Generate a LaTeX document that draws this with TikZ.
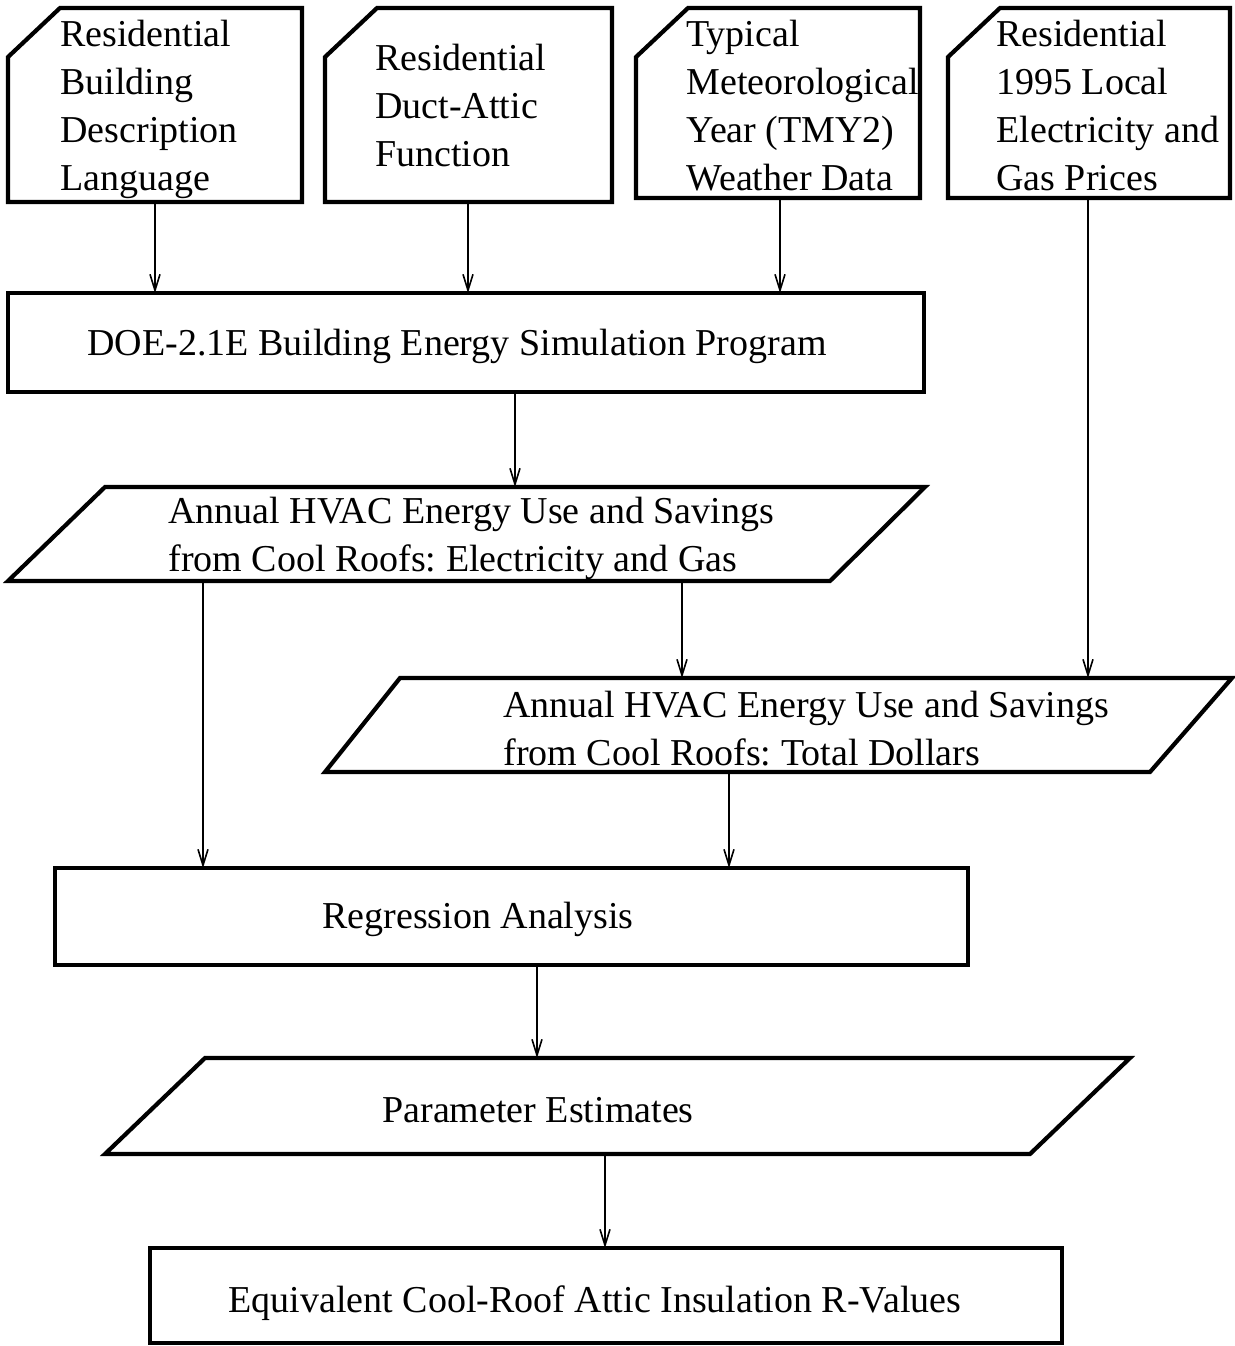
\documentclass[tikz,border=0pt]{standalone}
\usepackage{fontspec}
\setmainfont{Liberation Serif}
\frenchspacing
\usetikzlibrary{arrows.meta,fit,calc}
\tikzset{
  box/.style={draw=black,line width=2.1pt,line join=miter},
  area/.style={inner sep=0pt,outer sep=0pt},
  txt/.style={inner sep=0pt,align=left,font=\fontsize{19pt}{24pt}\selectfont},
  arr/.style={line width=0.8pt,-{Straight Barb[length=8pt,width=5pt]}},
}
\begin{document}
\begin{tikzpicture}[x=0.5pt,y=-0.5pt]
\useasboundingbox (0,0) rectangle (1235,1346);
% areas
\node[area,fit={(8,8)(302,202)}] (b1) {};
\node[area,fit={(325,8)(612,202)}] (b2) {};
\node[area,fit={(636,8)(920,198)}] (b3) {};
\node[area,fit={(948,8)(1230,198)}] (b4) {};
\node[area,fit={(8,293)(924,392)}] (doe) {};
\node[area,fit={(8,487)(925,581)}] (p1) {};
\node[area,fit={(325,678)(1232,772)}] (p2) {};
\node[area,fit={(55,868)(968,965)}] (reg) {};
\node[area,fit={(105,1058)(1130,1154)}] (p3) {};
\node[area,fit={(150,1248)(1062,1343)}] (eq) {};
% shapes
\draw[box] (8,202) -- (8,57) -- (60,8) -- (302,8) -- (302,202) -- cycle;
\draw[box] (325,202) -- (325,57) -- (377,8) -- (612,8) -- (612,202) -- cycle;
\draw[box] (636,198) -- (636,57) -- (688,8) -- (920,8) -- (920,198) -- cycle;
\draw[box] (948,198) -- (948,57) -- (1000,8) -- (1230,8) -- (1230,198) -- cycle;
\draw[box] (doe.north west) rectangle (doe.south east);
\draw[box] (105,487) -- (925,487) -- (830,581) -- (8,581) -- cycle;
\draw[box] (400,678) -- (1232,678) -- (1150,772) -- (325,772) -- cycle;
\draw[box] (reg.north west) rectangle (reg.south east);
\draw[box] (205,1058) -- (1130,1058) -- (1030,1154) -- (105,1154) -- cycle;
\draw[box] (eq.north west) rectangle (eq.south east);
% texts
\node[txt,anchor=west] (t1) at (60,109) {Residential\\Building\\Description\\Language};
\node[txt,anchor=west] (t2) at (375,105) {Residential\\Duct-Attic\\Function};
\node[txt,anchor=west] (t3) at (686,106) {Typical\\Meteorological\\Year (TMY2)\\Weather Data};
\node[txt,anchor=west] (t4) at (996,105) {Residential\\1995 Local\\Electricity and\\Gas Prices};
\node[txt] (tdoe) at (457,346) {DOE-2.1E Building Energy Simulation Program};
\node[txt,anchor=west] (tp1) at (168,538) {Annual HVAC Energy Use and Savings\\from Cool Roofs: Electricity and Gas};
\node[txt,anchor=west] (tp2) at (503,729) {Annual HVAC Energy Use and Savings\\from Cool Roofs: Total Dollars};
\node[txt] (treg) at (478,919) {Regression Analysis};
\node[txt] (tp3) at (538,1110) {Parameter Estimates};
\node[txt] (teq) at (595,1303) {Equivalent Cool-Roof Attic Insulation R-Values};
% x positions of connectors
\coordinate (xa) at (155,0);
\coordinate (xb) at (468,0);
\coordinate (xc) at (780,0);
\coordinate (xd) at (1088,0);
\coordinate (xe) at (515,0);
\coordinate (xf) at (203,0);
\coordinate (xg) at (682,0);
\coordinate (xh) at (729,0);
\coordinate (xi) at (537,0);
\coordinate (xj) at (605,0);
% connectors
\draw[arr] (b1.south -| xa) -- (doe.north -| xa);
\draw[arr] (b2.south -| xb) -- (doe.north -| xb);
\draw[arr] (b3.south -| xc) -- (doe.north -| xc);
\draw[arr] (b4.south -| xd) -- (p2.north -| xd);
\draw[arr] (doe.south -| xe) -- (p1.north -| xe);
\draw[arr] (p1.south -| xf) -- (reg.north -| xf);
\draw[arr] (p1.south -| xg) -- (p2.north -| xg);
\draw[arr] (p2.south -| xh) -- (reg.north -| xh);
\draw[arr] (reg.south -| xi) -- (p3.north -| xi);
\draw[arr] (p3.south -| xj) -- (eq.north -| xj);
\end{tikzpicture}
\end{document}
